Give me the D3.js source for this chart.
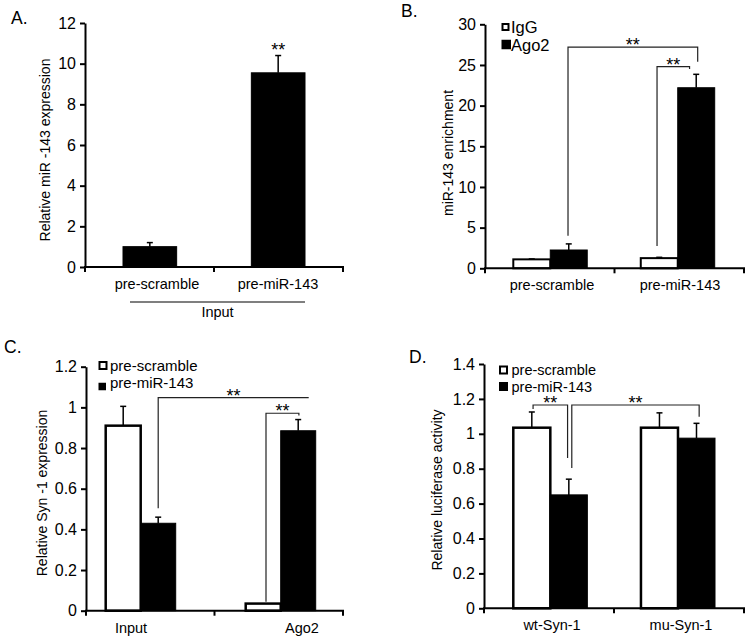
<!DOCTYPE html>
<html>
<head>
<meta charset="utf-8">
<script src="https://cdn.jsdelivr.net/npm/d3@7"></script>
<style>
  html, body { margin: 0; padding: 0; background: #fff; }
  svg { display: block; font-family: "Liberation Sans", Arial, Helvetica, sans-serif; }
</style>
</head>
<body>
<svg id="chart" width="748" height="641"></svg>
<script>
// ---------------- DATA ----------------
// Panel A
const catsA = ["pre-scramble", "pre-miR-143"];
const seriesA = ["value"];
const valuesA = [1.0, 9.55];
const errorsA = [0.2, 0.85];
const ticksA = [0, 2, 4, 6, 8, 10, 12];

// Panel B
const catsB = ["pre-scramble", "pre-miR-143"];
const seriesB = ["IgG", "Ago2"];
const igGB = [1.1, 1.25];
const igGErrB = [0.05, 0.1];
const ago2B = [2.25, 22.2];
const ago2ErrB = [0.75, 1.65];
const ticksB = [0, 5, 10, 15, 20, 25, 30];

// Panel C
const catsC = ["Input", "Ago2"];
const seriesC = ["pre-scramble", "pre-miR-143"];
const scrambleC = [0.91, 0.035];
const scrambleErrC = [0.095, 0];
const mirC = [0.43, 0.885];
const mirErrC = [0.03, 0.055];
const ticksC = [0, 0.2, 0.4, 0.6, 0.8, 1, 1.2];

// Panel D
const catsD = ["wt-Syn-1", "mu-Syn-1"];
const seriesD = ["pre-scramble", "pre-miR-143"];
const scrambleD = [1.035, 1.035];
const scrambleErrD = [0.09, 0.085];
const mirD = [0.65, 0.975];
const mirErrD = [0.09, 0.085];
const ticksD = [0, 0.2, 0.4, 0.6, 0.8, 1, 1.2, 1.4];

// significance brackets: ends as (category, fraction of group width), heights in data units
const bracketsB = [
  { a: ["pre-scramble", 0.74], b: ["pre-miR-143", 0.77], ya: 4.0, yh: 27.2, yb: 25.4 },
  { a: ["pre-miR-143", 0.22], b: ["pre-miR-143", 0.66], ya: 2.74, yh: 24.8, yb: 24.5 }
];
const bracketsC = [
  { a: ["Input", 0.75], b: ["Ago2", 0.90], ya: 0.504, yh: 1.048, yb: 1.048 },
  { a: ["Ago2", 0.29], b: ["Ago2", 0.76], ya: 0.044, yh: 0.971, yb: 0.96 }
];
const bracketsD = [
  { a: ["wt-Syn-1", 0.267], b: ["wt-Syn-1", 0.733], ya: 1.142, yh: 1.165, yb: 0.861 },
  { a: ["wt-Syn-1", 0.79], b: ["mu-Syn-1", 0.786], ya: 0.804, yh: 1.165, yb: 1.098 }
];

// ---------------- DRAWING ----------------
const svg = d3.select("#chart");
const FONT = '"Liberation Sans", Arial, Helvetica, sans-serif';
const STAR_SIZE = 18;

function drawPanel(cfg) {
  const g = svg.append("g");
  const y = d3.scaleLinear().domain([0, cfg.ymax]).range([cfg.y0, cfg.y1]);

  // x axis scale (for ticks) and group scale for bars
  const xAxisScale = d3.scaleBand().domain(cfg.cats).range([cfg.ax0, cfg.ax1]);
  const xg = d3.scaleBand().domain(cfg.cats).range(cfg.groupRange).paddingInner(cfg.pi).paddingOuter(0);
  const sub = d3.scaleBand().domain(cfg.series.map(s => s.name)).range([0, xg.bandwidth()]);
  const xLab = d3.scalePoint().domain(cfg.cats).range(cfg.labelRange);

  // bars
  cfg.series.forEach(s => {
    g.selectAll(null).data(cfg.cats.map((c, i) => ({ c, v: s.values[i], e: s.errors[i] })))
      .enter().append("rect")
      .attr("x", d => xg(d.c) + sub(s.name))
      .attr("width", sub.bandwidth())
      .attr("y", d => y(d.v))
      .attr("height", d => cfg.y0 - y(d.v))
      .attr("fill", s.fill)
      .attr("stroke", "#000")
      .attr("stroke-width", s.fill === "#fff" ? cfg.whiteStroke : 1);
  });

  // error bars
  cfg.series.forEach(s => {
    cfg.cats.forEach((c, i) => {
      const e = s.errors[i];
      if (!e) return;
      const cx = xg(c) + sub(s.name) + sub.bandwidth() / 2;
      const yt = y(s.values[i] + e);
      g.append("line").attr("x1", cx).attr("x2", cx).attr("y1", y(s.values[i])).attr("y2", yt)
        .attr("stroke", "#000").attr("stroke-width", 1.5);
      g.append("line").attr("x1", cx - 3).attr("x2", cx + 3).attr("y1", yt).attr("y2", yt)
        .attr("stroke", "#000").attr("stroke-width", 1.5);
    });
  });

  // y axis
  const yAxis = d3.axisLeft(y).tickValues(cfg.ticks).tickSize(5).tickSizeOuter(0).tickPadding(4)
    .tickFormat(d => String(d));
  const ya = g.append("g").attr("transform", `translate(${cfg.ax0},0)`).call(yAxis);
  ya.select(".domain").attr("stroke-width", 2).attr("stroke", "#000");
  ya.selectAll(".tick line").attr("stroke-width", 2).attr("stroke", "#000");
  ya.selectAll(".tick text").attr("font-size", 16).attr("font-family", FONT).attr("fill", "#000");

  // x axis line and ticks at band boundaries
  g.append("line").attr("x1", cfg.ax0 - 1).attr("x2", cfg.ax1 + 1).attr("y1", cfg.y0).attr("y2", cfg.y0)
    .attr("stroke", "#000").attr("stroke-width", 2);
  const bounds = [cfg.ax0].concat(cfg.cats.map(c => xAxisScale(c) + xAxisScale.bandwidth()));
  g.selectAll(null).data(bounds).enter().append("line")
    .attr("x1", d => d).attr("x2", d => d).attr("y1", cfg.y0).attr("y2", cfg.y0 + 5)
    .attr("stroke", "#000").attr("stroke-width", 2);

  // category labels
  g.selectAll(null).data(cfg.cats).enter().append("text")
    .attr("x", d => xLab(d)).attr("y", cfg.y0 + 22)
    .attr("text-anchor", "middle").attr("font-size", 14.5).attr("fill", "#000")
    .text(d => d);

  // y label
  g.append("text")
    .attr("transform", `translate(${cfg.ylabX},${cfg.ylabY}) rotate(-90)`)
    .attr("text-anchor", "middle").attr("dominant-baseline", "central")
    .attr("font-size", 14).attr("fill", "#000").text(cfg.ylabel);

  // panel letter
  g.append("text").attr("x", cfg.letterX).attr("y", cfg.letterY)
    .attr("font-size", 17.5).attr("fill", "#000").text(cfg.letter);

  // legend
  if (cfg.legend) {
    cfg.series.forEach((s, i) => {
      const ry = cfg.legend.rows[i];
      const sz = cfg.legend.sizes[i];
      const sw = s.fill === "#fff" ? 2 : 0;
      g.append("rect")
        .attr("x", cfg.legend.x + sw / 2).attr("y", ry - sz / 2 + sw / 2 + (cfg.legend.shift ? cfg.legend.shift[i] : 0))
        .attr("width", sz - sw).attr("height", sz - sw)
        .attr("fill", s.fill).attr("stroke", sw ? "#000" : "none").attr("stroke-width", sw);
      g.append("text").attr("x", cfg.legend.tx).attr("y", ry)
        .attr("dominant-baseline", "central").attr("font-size", cfg.legend.font).attr("fill", "#000")
        .text(s.name);
    });
  }

  // brackets
  (cfg.brackets || []).forEach(b => {
    const xa = xg(b.a[0]) + b.a[1] * xg.bandwidth();
    const xb = xg(b.b[0]) + b.b[1] * xg.bandwidth();
    const p = d3.path();
    p.moveTo(xa, y(b.ya)); p.lineTo(xa, y(b.yh)); p.lineTo(xb, y(b.yh)); p.lineTo(xb, y(b.yb));
    g.append("path").attr("d", p.toString()).attr("fill", "none")
      .attr("stroke", "#222").attr("stroke-width", 1.2);
    g.append("text").attr("x", (xa + xb) / 2).attr("y", y(b.yh) - 6 + 10)
      .attr("text-anchor", "middle").attr("font-size", STAR_SIZE).attr("fill", "#000").text("**");
  });

  return { g, y, xg, sub };
}

// Panel A
const pA = drawPanel({
  cats: catsA, series: [{ name: seriesA[0], values: valuesA, errors: errorsA, fill: "#000" }],
  ymax: 12, ticks: ticksA, y0: 267, y1: 23, ax0: 85, ax1: 343,
  groupRange: [123, 305], pi: 0.582, labelRange: [157, 278],
  ylabel: "Relative miR -143 expression", ylabX: 45, ylabY: 150,
  letter: "A.", letterX: 11, letterY: 24, whiteStroke: 2
});
// stars above pre-miR-143 bar in A
{
  const c = catsA[1];
  const cx = pA.xg(c) + pA.xg.bandwidth() / 2;
  pA.g.append("text").attr("x", cx).attr("y", pA.y(valuesA[1] + errorsA[1]) - 10 + 10)
    .attr("text-anchor", "middle").attr("font-size", STAR_SIZE).attr("fill", "#000").text("**");
  // "Input" grouping line
  const lx0 = pA.xg(catsA[0]) + 7, lx1 = pA.xg(catsA[1]) + pA.xg.bandwidth();
  pA.g.append("line").attr("x1", lx0).attr("x2", lx1).attr("y1", 302).attr("y2", 302)
    .attr("stroke", "#000").attr("stroke-width", 1.2);
  pA.g.append("text").attr("x", (lx0 + lx1) / 2).attr("y", 317).attr("text-anchor", "middle")
    .attr("font-size", 14.5).attr("fill", "#000").text("Input");
}

// Panel B
drawPanel({
  cats: catsB,
  series: [
    { name: seriesB[0], values: igGB, errors: igGErrB, fill: "#fff" },
    { name: seriesB[1], values: ago2B, errors: ago2ErrB, fill: "#000" }
  ],
  ymax: 30, ticks: ticksB, y0: 268.3, y1: 24.3, ax0: 485, ax1: 744,
  groupRange: [513.3, 714.7], pi: 0.42, labelRange: [552, 680],
  ylabel: "miR-143  enrichment", ylabX: 448, ylabY: 153,
  letter: "B.", letterX: 401, letterY: 17, whiteStroke: 2,
  legend: { x: 501.5, tx: 511, rows: [27, 44.5], sizes: [8, 9.5], font: 16.5 },
  brackets: bracketsB
});

// Panel C
drawPanel({
  cats: catsC,
  series: [
    { name: seriesC[0], values: scrambleC, errors: scrambleErrC, fill: "#fff" },
    { name: seriesC[1], values: mirC, errors: mirErrC, fill: "#000" }
  ],
  ymax: 1.2, ticks: ticksC, y0: 610.7, y1: 366.7, ax0: 86, ax1: 343,
  groupRange: [105.7, 315.7], pi: 0.5, labelRange: [131, 302],
  ylabel: "Relative Syn -1  expression", ylabX: 42, ylabY: 493,
  letter: "C.", letterX: 4, letterY: 353, whiteStroke: 2.5,
  legend: { x: 98.5, tx: 110, rows: [365.5, 382], sizes: [9, 7.5], shift: [0, 4.5], font: 15 },
  brackets: bracketsC
});

// Panel D
drawPanel({
  cats: catsD,
  series: [
    { name: seriesD[0], values: scrambleD, errors: scrambleErrD, fill: "#fff" },
    { name: seriesD[1], values: mirD, errors: mirErrD, fill: "#000" }
  ],
  ymax: 1.4, ticks: ticksD, y0: 608.3, y1: 364, ax0: 484, ax1: 744,
  groupRange: [513.3, 715], pi: 0.42, labelRange: [552, 681],
  ylabel: "Relative luciferase activity", ylabX: 437, ylabY: 490,
  letter: "D.", letterX: 409, letterY: 363, whiteStroke: 2.5,
  legend: { x: 499, tx: 511.5, rows: [370, 386.5], sizes: [9, 9], font: 14.5 },
  brackets: bracketsD
});
</script>
</body>
</html>
